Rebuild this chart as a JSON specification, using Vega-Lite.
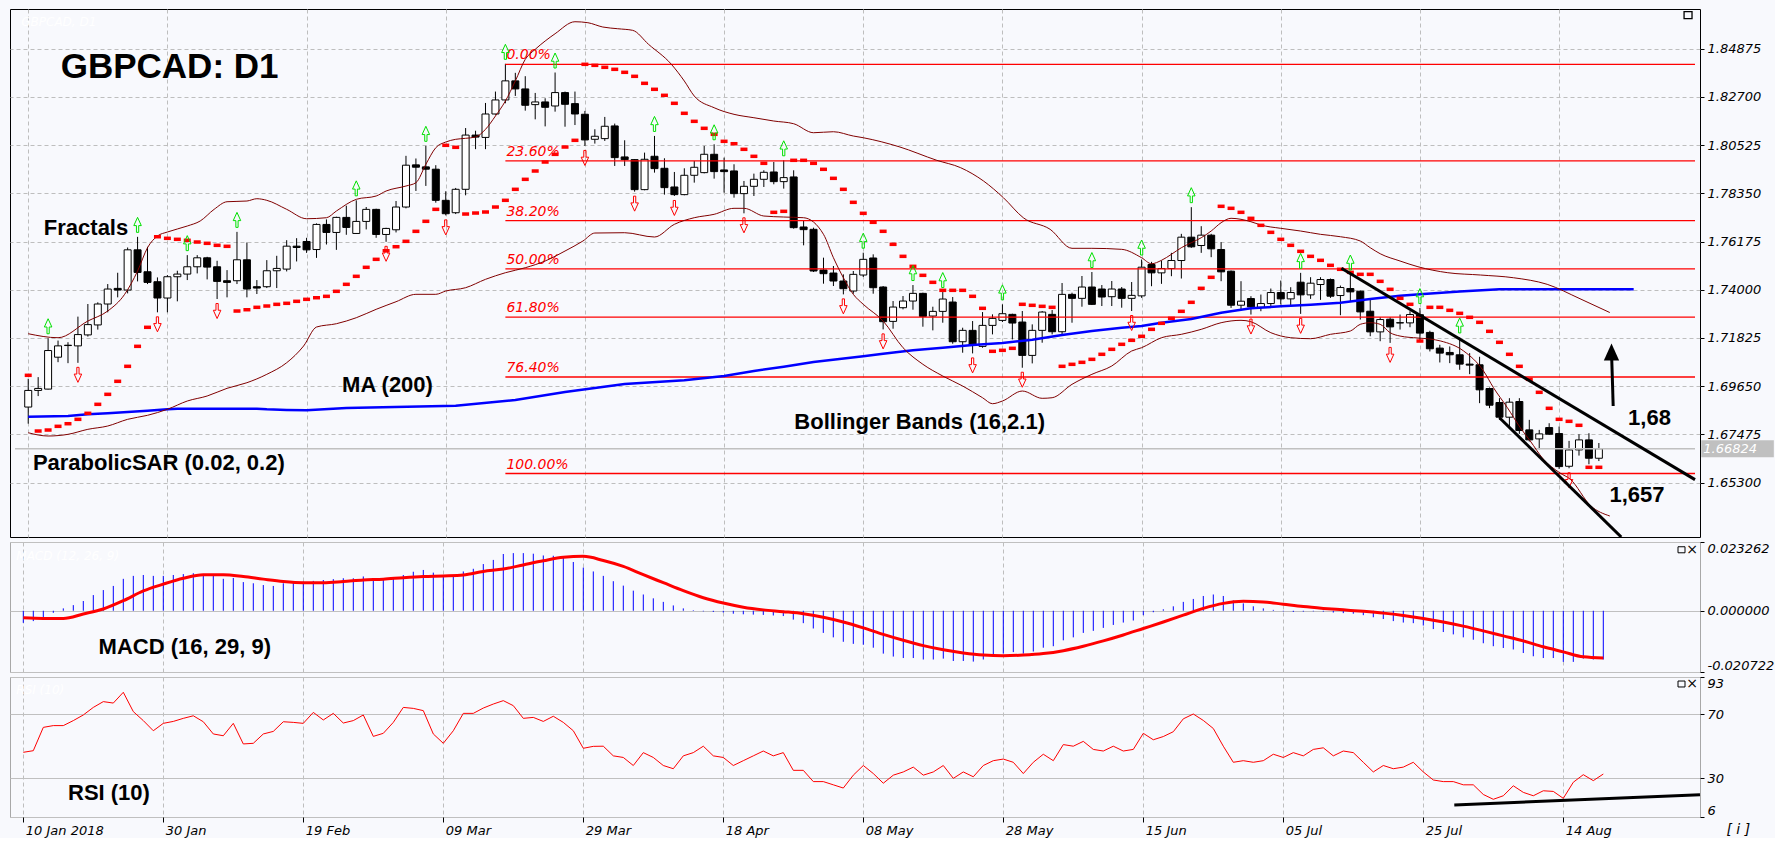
{
"$schema":"https://vega.github.io/schema/vega-lite/v6.json",
"background":"#F8F9FD",
"padding":{"left":9,"top":8,"right":0,"bottom":0},
"spacing":3,
"config":{"font":"DejaVu Sans","view":{"stroke":null}},
"datasets":{
"k":[
{"i":0,"o":1.68705,"h":1.6998,"l":1.67955,"c":1.69455,"s":1.70137},
{"i":1,"o":1.69455,"h":1.70055,"l":1.692,"c":1.69545,"s":1.67623},
{"i":2,"o":1.69515,"h":1.7181,"l":1.695,"c":1.71255,"s":1.67668},
{"i":3,"o":1.70955,"h":1.71705,"l":1.7073,"c":1.71465,"s":1.67835},
{"i":4,"o":1.71495,"h":1.7163,"l":1.70685,"c":1.7148,"s":1.67953},
{"i":5,"o":1.71465,"h":1.72785,"l":1.707,"c":1.71975,"s":1.68151},
{"i":6,"o":1.7196,"h":1.73355,"l":1.71885,"c":1.72425,"s":1.68422},
{"i":7,"o":1.7241,"h":1.7343,"l":1.722,"c":1.73355,"s":1.68828},
{"i":8,"o":1.73355,"h":1.74255,"l":1.7298,"c":1.7403,"s":1.69279},
{"i":9,"o":1.7406,"h":1.74765,"l":1.73655,"c":1.73985,"s":1.69866},
{"i":10,"o":1.73985,"h":1.75905,"l":1.73835,"c":1.758,"s":1.70543},
{"i":11,"o":1.758,"h":1.76385,"l":1.74375,"c":1.7478,"s":1.71445},
{"i":12,"o":1.7481,"h":1.75935,"l":1.74255,"c":1.7433,"s":1.72303},
{"i":13,"o":1.7436,"h":1.74555,"l":1.7298,"c":1.73625,"s":1.76391},
{"i":14,"o":1.73625,"h":1.7466,"l":1.7298,"c":1.74585,"s":1.76319},
{"i":15,"o":1.74585,"h":1.74855,"l":1.73475,"c":1.74705,"s":1.76274},
{"i":16,"o":1.74705,"h":1.7556,"l":1.74435,"c":1.75035,"s":1.76229},
{"i":17,"o":1.75035,"h":1.7556,"l":1.74735,"c":1.7544,"s":1.76152},
{"i":18,"o":1.7544,"h":1.75485,"l":1.74465,"c":1.7502,"s":1.76093},
{"i":19,"o":1.75035,"h":1.75305,"l":1.7358,"c":1.74375,"s":1.76003},
{"i":20,"o":1.74405,"h":1.74885,"l":1.73655,"c":1.7433,"s":1.75958},
{"i":21,"o":1.74405,"h":1.7661,"l":1.74255,"c":1.7535,"s":1.73038},
{"i":22,"o":1.7535,"h":1.7613,"l":1.73655,"c":1.7403,"s":1.73097},
{"i":23,"o":1.74135,"h":1.74435,"l":1.73805,"c":1.74075,"s":1.73205},
{"i":24,"o":1.74135,"h":1.75335,"l":1.74075,"c":1.74855,"s":1.73264},
{"i":25,"o":1.74855,"h":1.7553,"l":1.74075,"c":1.7496,"s":1.7334},
{"i":26,"o":1.7493,"h":1.76235,"l":1.74825,"c":1.75965,"s":1.73386},
{"i":27,"o":1.75965,"h":1.76325,"l":1.75275,"c":1.75905,"s":1.73476},
{"i":28,"o":1.76176,"h":1.76342,"l":1.75662,"c":1.75798,"s":1.73566},
{"i":29,"o":1.75813,"h":1.76991,"l":1.75436,"c":1.76946,"s":1.73638},
{"i":30,"o":1.76946,"h":1.77173,"l":1.7604,"c":1.76584,"s":1.73701},
{"i":31,"o":1.76584,"h":1.77293,"l":1.75798,"c":1.77263,"s":1.73927},
{"i":32,"o":1.77263,"h":1.77792,"l":1.76478,"c":1.7681,"s":1.74243},
{"i":33,"o":1.76538,"h":1.78033,"l":1.7652,"c":1.77082,"s":1.74604},
{"i":34,"o":1.77082,"h":1.77731,"l":1.7672,"c":1.77625,"s":1.7501},
{"i":35,"o":1.77625,"h":1.77655,"l":1.76342,"c":1.76493,"s":1.75371},
{"i":36,"o":1.76493,"h":1.76795,"l":1.76161,"c":1.76765,"s":1.75759},
{"i":37,"o":1.76704,"h":1.78003,"l":1.76584,"c":1.77731,"s":1.7594},
{"i":38,"o":1.77731,"h":1.80041,"l":1.77671,"c":1.79619,"s":1.76183},
{"i":39,"o":1.79634,"h":1.79921,"l":1.78456,"c":1.79528,"s":1.76634},
{"i":40,"o":1.79543,"h":1.80494,"l":1.78683,"c":1.79438,"s":1.77086},
{"i":41,"o":1.79438,"h":1.79619,"l":1.77927,"c":1.78033,"s":1.77627},
{"i":42,"o":1.78033,"h":1.78441,"l":1.77354,"c":1.77429,"s":1.80516},
{"i":43,"o":1.77474,"h":1.78592,"l":1.77414,"c":1.78531,"s":1.80425},
{"i":44,"o":1.78531,"h":1.81295,"l":1.7826,"c":1.80978,"s":1.77415},
{"i":45,"o":1.80978,"h":1.81174,"l":1.80343,"c":1.80887,"s":1.7746},
{"i":46,"o":1.80872,"h":1.82427,"l":1.80343,"c":1.81929,"s":1.77506},
{"i":47,"o":1.81929,"h":1.82941,"l":1.819,"c":1.82563,"s":1.77731},
{"i":48,"o":1.82563,"h":1.84194,"l":1.82412,"c":1.83424,"s":1.78034},
{"i":49,"o":1.83424,"h":1.83786,"l":1.82744,"c":1.83061,"s":1.7853},
{"i":50,"o":1.83061,"h":1.83635,"l":1.8208,"c":1.82322,"s":1.78981},
{"i":51,"o":1.82352,"h":1.8288,"l":1.81688,"c":1.82473,"s":1.79356},
{"i":52,"o":1.82473,"h":1.82639,"l":1.8137,"c":1.82231,"s":1.79762},
{"i":53,"o":1.82291,"h":1.83801,"l":1.82035,"c":1.82895,"s":1.80109},
{"i":54,"o":1.82895,"h":1.82941,"l":1.81355,"c":1.82367,"s":1.80439},
{"i":55,"o":1.82397,"h":1.82941,"l":1.81431,"c":1.81929,"s":1.80741},
{"i":56,"o":1.81917,"h":1.82068,"l":1.80487,"c":1.80758,"s":1.84171},
{"i":57,"o":1.80788,"h":1.8124,"l":1.80593,"c":1.80924,"s":1.84125},
{"i":58,"o":1.80818,"h":1.81797,"l":1.80713,"c":1.81375,"s":1.84035},
{"i":59,"o":1.8139,"h":1.81496,"l":1.79584,"c":1.79961,"s":1.83945},
{"i":60,"o":1.79991,"h":1.80743,"l":1.79584,"c":1.7987,"s":1.8381},
{"i":61,"o":1.7987,"h":1.79885,"l":1.78425,"c":1.78516,"s":1.83629},
{"i":62,"o":1.78516,"h":1.80186,"l":1.78486,"c":1.79885,"s":1.83313},
{"i":63,"o":1.80021,"h":1.80939,"l":1.79283,"c":1.79464,"s":1.83043},
{"i":64,"o":1.79479,"h":1.79931,"l":1.7829,"c":1.78606,"s":1.82772},
{"i":65,"o":1.78636,"h":1.79313,"l":1.7823,"c":1.7829,"s":1.82411},
{"i":66,"o":1.7829,"h":1.79479,"l":1.7826,"c":1.79163,"s":1.8196},
{"i":67,"o":1.79163,"h":1.7981,"l":1.78832,"c":1.79524,"s":1.81598},
{"i":68,"o":1.79283,"h":1.80487,"l":1.7925,"c":1.80111,"s":1.81283},
{"i":69,"o":1.80111,"h":1.80563,"l":1.79012,"c":1.79329,"s":1.81012},
{"i":70,"o":1.79404,"h":1.79961,"l":1.7838,"c":1.79329,"s":1.80696},
{"i":71,"o":1.79359,"h":1.7966,"l":1.78154,"c":1.78335,"s":1.80588},
{"i":72,"o":1.78335,"h":1.78907,"l":1.77447,"c":1.78666,"s":1.80335},
{"i":73,"o":1.78666,"h":1.79238,"l":1.7823,"c":1.78982,"s":1.80019},
{"i":74,"o":1.78982,"h":1.79389,"l":1.78636,"c":1.79298,"s":1.79703},
{"i":75,"o":1.79313,"h":1.79765,"l":1.78757,"c":1.78877,"s":1.77492},
{"i":76,"o":1.78877,"h":1.7984,"l":1.78561,"c":1.79058,"s":1.77537},
{"i":77,"o":1.79088,"h":1.79389,"l":1.76755,"c":1.768,"s":1.79839},
{"i":78,"o":1.7683,"h":1.77101,"l":1.76003,"c":1.7671,"s":1.79839},
{"i":79,"o":1.76725,"h":1.768,"l":1.74798,"c":1.74844,"s":1.79703},
{"i":80,"o":1.74889,"h":1.75446,"l":1.74272,"c":1.74723,"s":1.79433},
{"i":81,"o":1.74753,"h":1.7507,"l":1.74166,"c":1.74392,"s":1.79026},
{"i":82,"o":1.74392,"h":1.74693,"l":1.7379,"c":1.74046,"s":1.7853},
{"i":83,"o":1.73941,"h":1.74844,"l":1.7382,"c":1.74693,"s":1.77943},
{"i":84,"o":1.74663,"h":1.75671,"l":1.74573,"c":1.7537,"s":1.77447},
{"i":85,"o":1.75431,"h":1.75596,"l":1.7382,"c":1.74091,"s":1.77041},
{"i":86,"o":1.74121,"h":1.74166,"l":1.7221,"c":1.72556,"s":1.76635},
{"i":87,"o":1.72571,"h":1.73489,"l":1.7224,"c":1.73218,"s":1.76048},
{"i":88,"o":1.73188,"h":1.73715,"l":1.73113,"c":1.73489,"s":1.75506},
{"i":89,"o":1.73489,"h":1.74211,"l":1.73098,"c":1.73835,"s":1.75055},
{"i":90,"o":1.73835,"h":1.73865,"l":1.7233,"c":1.72797,"s":1.74649},
{"i":91,"o":1.72812,"h":1.73233,"l":1.72165,"c":1.73022,"s":1.74333},
{"i":92,"o":1.73022,"h":1.73895,"l":1.72511,"c":1.73579,"s":1.73972},
{"i":93,"o":1.73444,"h":1.7367,"l":1.71563,"c":1.71653,"s":1.73972},
{"i":94,"o":1.71653,"h":1.72285,"l":1.71157,"c":1.72165,"s":1.73972},
{"i":95,"o":1.72165,"h":1.72586,"l":1.71126,"c":1.71487,"s":1.73702},
{"i":96,"o":1.71442,"h":1.72992,"l":1.71382,"c":1.7239,"s":1.7316},
{"i":97,"o":1.7239,"h":1.72887,"l":1.71984,"c":1.72706,"s":1.7122},
{"i":98,"o":1.72616,"h":1.73339,"l":1.72541,"c":1.72917,"s":1.71265},
{"i":99,"o":1.72887,"h":1.72917,"l":1.71758,"c":1.72496,"s":1.71355},
{"i":100,"o":1.72541,"h":1.73038,"l":1.70479,"c":1.71036,"s":1.73341},
{"i":101,"o":1.71036,"h":1.72436,"l":1.70675,"c":1.72165,"s":1.73296},
{"i":102,"o":1.72165,"h":1.73038,"l":1.71608,"c":1.72992,"s":1.7325},
{"i":103,"o":1.72887,"h":1.73083,"l":1.71984,"c":1.72104,"s":1.73205},
{"i":104,"o":1.72104,"h":1.74302,"l":1.71984,"c":1.7379,"s":1.70543},
{"i":105,"o":1.7379,"h":1.73865,"l":1.72511,"c":1.7361,"s":1.70633},
{"i":106,"o":1.7361,"h":1.74618,"l":1.73233,"c":1.74121,"s":1.70723},
{"i":107,"o":1.74121,"h":1.74798,"l":1.73309,"c":1.73339,"s":1.70858},
{"i":108,"o":1.74031,"h":1.74211,"l":1.73264,"c":1.7367,"s":1.71085},
{"i":109,"o":1.73685,"h":1.74392,"l":1.73264,"c":1.74031,"s":1.7131},
{"i":110,"o":1.74031,"h":1.74121,"l":1.73188,"c":1.7361,"s":1.71536},
{"i":111,"o":1.7361,"h":1.74347,"l":1.73038,"c":1.73745,"s":1.71716},
{"i":112,"o":1.73722,"h":1.75362,"l":1.73632,"c":1.75016,"s":1.71897},
{"i":113,"o":1.75137,"h":1.75257,"l":1.74158,"c":1.7476,"s":1.72212},
{"i":114,"o":1.7476,"h":1.75317,"l":1.74264,"c":1.74956,"s":1.72483},
{"i":115,"o":1.74956,"h":1.75663,"l":1.7461,"c":1.75317,"s":1.72709},
{"i":116,"o":1.75317,"h":1.76521,"l":1.74505,"c":1.76371,"s":1.73025},
{"i":117,"o":1.76371,"h":1.77725,"l":1.75889,"c":1.75934,"s":1.73431},
{"i":118,"o":1.75994,"h":1.76867,"l":1.75663,"c":1.76461,"s":1.74063},
{"i":119,"o":1.76461,"h":1.76521,"l":1.75468,"c":1.75844,"s":1.74559},
{"i":120,"o":1.75814,"h":1.76145,"l":1.74384,"c":1.74806,"s":1.77763},
{"i":121,"o":1.74836,"h":1.74866,"l":1.7318,"c":1.733,"s":1.77673},
{"i":122,"o":1.733,"h":1.74384,"l":1.7306,"c":1.73481,"s":1.77492},
{"i":123,"o":1.73601,"h":1.73707,"l":1.72879,"c":1.73225,"s":1.77221},
{"i":124,"o":1.7321,"h":1.73782,"l":1.7303,"c":1.73376,"s":1.76905},
{"i":125,"o":1.73376,"h":1.74053,"l":1.7318,"c":1.73872,"s":1.76589},
{"i":126,"o":1.73872,"h":1.74414,"l":1.73331,"c":1.73586,"s":1.76274},
{"i":127,"o":1.73586,"h":1.74113,"l":1.73255,"c":1.73872,"s":1.76003},
{"i":128,"o":1.74339,"h":1.7476,"l":1.72909,"c":1.73767,"s":1.75732},
{"i":129,"o":1.73767,"h":1.74565,"l":1.73586,"c":1.74294,"s":1.75506},
{"i":130,"o":1.74234,"h":1.74565,"l":1.73541,"c":1.74459,"s":1.75326},
{"i":131,"o":1.74459,"h":1.74505,"l":1.73632,"c":1.73707,"s":1.751},
{"i":132,"o":1.73737,"h":1.74188,"l":1.72849,"c":1.74098,"s":1.7492},
{"i":133,"o":1.74053,"h":1.74685,"l":1.73481,"c":1.73902,"s":1.74784},
{"i":134,"o":1.73932,"h":1.73963,"l":1.72653,"c":1.72999,"s":1.74694},
{"i":135,"o":1.73029,"h":1.73541,"l":1.71901,"c":1.72097,"s":1.74694},
{"i":136,"o":1.72097,"h":1.72759,"l":1.71675,"c":1.72653,"s":1.74378},
{"i":137,"o":1.72668,"h":1.72759,"l":1.716,"c":1.72322,"s":1.74017},
{"i":138,"o":1.7251,"h":1.72879,"l":1.72202,"c":1.725,"s":1.73611},
{"i":139,"o":1.72503,"h":1.7303,"l":1.72307,"c":1.72879,"s":1.73341},
{"i":140,"o":1.72871,"h":1.73172,"l":1.71666,"c":1.72042,"s":1.71684},
{"i":141,"o":1.72072,"h":1.72148,"l":1.71214,"c":1.71335,"s":1.73205},
{"i":142,"o":1.71365,"h":1.71515,"l":1.70717,"c":1.71139,"s":1.73205},
{"i":143,"o":1.71169,"h":1.7144,"l":1.70687,"c":1.71063,"s":1.7307},
{"i":144,"o":1.71063,"h":1.71847,"l":1.70386,"c":1.70642,"s":1.72934},
{"i":145,"o":1.70642,"h":1.71139,"l":1.7019,"c":1.70597,"s":1.72754},
{"i":146,"o":1.70612,"h":1.70973,"l":1.68881,"c":1.69482,"s":1.72528},
{"i":147,"o":1.69542,"h":1.69587,"l":1.68654,"c":1.68789,"s":1.72122},
{"i":148,"o":1.6891,"h":1.69106,"l":1.68127,"c":1.68247,"s":1.71626},
{"i":149,"o":1.68247,"h":1.69106,"l":1.6775,"c":1.68925,"s":1.71085},
{"i":150,"o":1.68955,"h":1.69106,"l":1.67494,"c":1.67645,"s":1.70543},
{"i":151,"o":1.67675,"h":1.68127,"l":1.67148,"c":1.67223,"s":1.69956},
{"i":152,"o":1.67268,"h":1.67675,"l":1.66802,"c":1.67494,"s":1.6937},
{"i":153,"o":1.6778,"h":1.67976,"l":1.67449,"c":1.67479,"s":1.68648},
{"i":154,"o":1.67509,"h":1.67826,"l":1.65913,"c":1.66018,"s":1.68151},
{"i":155,"o":1.66033,"h":1.67178,"l":1.65943,"c":1.66771,"s":1.68061},
{"i":156,"o":1.66771,"h":1.67479,"l":1.66515,"c":1.67223,"s":1.67881},
{"i":157,"o":1.67223,"h":1.67524,"l":1.66124,"c":1.66395,"s":1.65986},
{"i":158,"o":1.66395,"h":1.67083,"l":1.66268,"c":1.66824,"s":1.65986}
],
"ind":[
{"i":0,"m":-0.0041,"r":46.2},{"i":1,"m":-0.0035,"r":47.2},{"i":2,"m":-0.0022,"r":61.7},{"i":3,"m":-0.0007,"r":62.8},{"i":4,"m":0.0008,"r":62.8},{"i":5,"m":0.0019,"r":65.9},{"i":6,"m":0.0033,"r":69.4},{"i":7,"m":0.0053,"r":74.1},{"i":8,"m":0.007,"r":77.7},{"i":9,"m":0.0084,"r":76.8},
{"i":10,"m":0.0108,"r":83.5},{"i":11,"m":0.0118,"r":71.5},{"i":12,"m":0.0121,"r":65.9},{"i":13,"m":0.0118,"r":59.6},{"i":14,"m":0.0118,"r":64.2},{"i":15,"m":0.0121,"r":65.4},{"i":16,"m":0.0124,"r":67.3},{"i":17,"m":0.0127,"r":68.9},{"i":18,"m":0.0121,"r":65.2},{"i":19,"m":0.0119,"r":57.6},
{"i":20,"m":0.0108,"r":56.5},{"i":21,"m":0.0111,"r":64.2},{"i":22,"m":0.0097,"r":51.4},{"i":23,"m":0.0093,"r":51.8},{"i":24,"m":0.0087,"r":57.6},{"i":25,"m":0.0084,"r":59.2},{"i":26,"m":0.0093,"r":65.2},{"i":27,"m":0.0099,"r":64.8},{"i":28,"m":0.0099,"r":64.2},{"i":29,"m":0.0101,"r":71.0},
{"i":30,"m":0.0104,"r":66.3},{"i":31,"m":0.0107,"r":70.4},{"i":32,"m":0.011,"r":64.4},{"i":33,"m":0.011,"r":65.9},{"i":34,"m":0.0116,"r":69.4},{"i":35,"m":0.0104,"r":56.1},{"i":36,"m":0.0107,"r":58.0},{"i":37,"m":0.011,"r":64.8},{"i":38,"m":0.0121,"r":74.1},{"i":39,"m":0.0132,"r":73.5},
{"i":40,"m":0.0138,"r":72.1},{"i":41,"m":0.0129,"r":57.6},{"i":42,"m":0.0121,"r":51.8},{"i":43,"m":0.0118,"r":59.6},{"i":44,"m":0.0133,"r":70.4},{"i":45,"m":0.0142,"r":70.4},{"i":46,"m":0.0158,"r":73.7},{"i":47,"m":0.0172,"r":76.2},{"i":48,"m":0.0192,"r":78.3},{"i":49,"m":0.0195,"r":75.2},
{"i":50,"m":0.0195,"r":67.3},{"i":51,"m":0.0193,"r":67.9},{"i":52,"m":0.0187,"r":65.4},{"i":53,"m":0.0186,"r":68.6},{"i":54,"m":0.0184,"r":64.8},{"i":55,"m":0.0165,"r":59.6},{"i":56,"m":0.0146,"r":48.7},{"i":57,"m":0.0133,"r":49.9},{"i":58,"m":0.0118,"r":50},{"i":59,"m":0.01,"r":44},
{"i":60,"m":0.0085,"r":43},{"i":61,"m":0.0068,"r":38},{"i":62,"m":0.0055,"r":46},{"i":63,"m":0.0042,"r":43},{"i":64,"m":0.003,"r":38},{"i":65,"m":0.0018,"r":36},{"i":66,"m":0.0008,"r":44},{"i":67,"m":0.0002,"r":46},{"i":68,"m":-0.0002,"r":50},{"i":69,"m":-0.0004,"r":44},
{"i":70,"m":-0.0006,"r":43},{"i":71,"m":-0.001,"r":38},{"i":72,"m":-0.0012,"r":41},{"i":73,"m":-0.0013,"r":44},{"i":74,"m":-0.0014,"r":47},{"i":75,"m":-0.0016,"r":44},{"i":76,"m":-0.0018,"r":46},{"i":77,"m":-0.003,"r":35},{"i":78,"m":-0.0042,"r":35},{"i":79,"m":-0.006,"r":28},
{"i":80,"m":-0.0075,"r":28},{"i":81,"m":-0.009,"r":26},{"i":82,"m":-0.0105,"r":24},{"i":83,"m":-0.0112,"r":32},{"i":84,"m":-0.0115,"r":38},{"i":85,"m":-0.0125,"r":33},{"i":86,"m":-0.0145,"r":27},{"i":87,"m":-0.0155,"r":32},{"i":88,"m":-0.016,"r":34},{"i":89,"m":-0.016,"r":37},
{"i":90,"m":-0.0165,"r":32},{"i":91,"m":-0.0165,"r":34},{"i":92,"m":-0.0162,"r":38},{"i":93,"m":-0.017,"r":30},{"i":94,"m":-0.017,"r":34},{"i":95,"m":-0.0172,"r":31},{"i":96,"m":-0.0165,"r":38},{"i":97,"m":-0.0155,"r":41},{"i":98,"m":-0.0145,"r":42},{"i":99,"m":-0.014,"r":40},
{"i":100,"m":-0.0145,"r":33},{"i":101,"m":-0.0138,"r":40},{"i":102,"m":-0.0125,"r":45},{"i":103,"m":-0.012,"r":41},{"i":104,"m":-0.01,"r":51},{"i":105,"m":-0.009,"r":50},{"i":106,"m":-0.0075,"r":53},{"i":107,"m":-0.0068,"r":48},{"i":108,"m":-0.0058,"r":47},{"i":109,"m":-0.0048,"r":50},
{"i":110,"m":-0.004,"r":47},{"i":111,"m":-0.0033,"r":48},{"i":112,"m":-0.0015,"r":58},{"i":113,"m":-0.0005,"r":54},{"i":114,"m":0.0005,"r":56},{"i":115,"m":0.0015,"r":59},{"i":116,"m":0.003,"r":67},{"i":117,"m":0.004,"r":70},{"i":118,"m":0.005,"r":66},{"i":119,"m":0.0055,"r":61},
{"i":120,"m":0.005,"r":50},{"i":121,"m":0.0035,"r":40},{"i":122,"m":0.0025,"r":41},{"i":123,"m":0.0015,"r":40},{"i":124,"m":0.0008,"r":41},{"i":125,"m":0.0003,"r":45},{"i":126,"m":-0.0002,"r":43},{"i":127,"m":-0.0004,"r":46},{"i":128,"m":-0.0003,"r":44},{"i":129,"m":-0.0002,"r":48},
{"i":130,"m":-0.0003,"r":49},{"i":131,"m":-0.0006,"r":44},{"i":132,"m":-0.0008,"r":47},{"i":133,"m":-0.001,"r":46},{"i":134,"m":-0.0015,"r":40},{"i":135,"m":-0.0022,"r":34},{"i":136,"m":-0.0028,"r":38},{"i":137,"m":-0.0035,"r":36},{"i":138,"m":-0.004,"r":37},{"i":139,"m":-0.0042,"r":40},
{"i":140,"m":-0.005,"r":34},{"i":141,"m":-0.0062,"r":29},{"i":142,"m":-0.0072,"r":28},{"i":143,"m":-0.008,"r":28},{"i":144,"m":-0.009,"r":26},{"i":145,"m":-0.0098,"r":26},{"i":146,"m":-0.011,"r":20},{"i":147,"m":-0.012,"r":17},{"i":148,"m":-0.0126,"r":19.2},{"i":149,"m":-0.0131,"r":25.4},
{"i":150,"m":-0.0143,"r":21.3},{"i":151,"m":-0.0154,"r":19.2},{"i":152,"m":-0.016,"r":22.3},{"i":153,"m":-0.016,"r":21.9},{"i":154,"m":-0.0173,"r":17.6},{"i":155,"m":-0.0173,"r":27.6},{"i":156,"m":-0.0162,"r":32.3},{"i":157,"m":-0.0165,"r":28.6},{"i":158,"m":-0.0165,"r":32.7}
],
"sig":[
{"i":0,"s":-0.0024},{"i":2,"s":-0.0026},{"i":4,"s":-0.0026},{"i":6,"s":-0.0011},{"i":8,"s":0.0006},{"i":10,"s":0.0034},{"i":12,"s":0.0067},{"i":14,"s":0.009},{"i":16,"s":0.011},{"i":18,"s":0.0122},{"i":20,"s":0.0122},{"i":22,"s":0.0116},{"i":24,"s":0.0107},{"i":26,"s":0.0099},{"i":28,"s":0.0095},{"i":30,"s":0.0095},{"i":32,"s":0.0099},{"i":34,"s":0.0104},{"i":36,"s":0.0107},{"i":38,"s":0.0112},{"i":40,"s":0.0116},{"i":42,"s":0.0118},{"i":44,"s":0.0121},{"i":46,"s":0.0133},{"i":48,"s":0.0141},{"i":50,"s":0.0155},{"i":52,"s":0.0169},{"i":54,"s":0.0181},{"i":56,"s":0.0184},{"i":58,"s":0.017},{"i":60,"s":0.015},{"i":62,"s":0.0122},{"i":64,"s":0.0095},{"i":66,"s":0.0068},{"i":68,"s":0.0044},{"i":70,"s":0.0026},{"i":72,"s":0.0012},{"i":74,"s":0.0003},{"i":76,"s":-0.0003},{"i":78,"s":-0.001},{"i":80,"s":-0.0022},{"i":82,"s":-0.0038},{"i":84,"s":-0.0058},{"i":86,"s":-0.008},{"i":88,"s":-0.01},{"i":90,"s":-0.0118},{"i":92,"s":-0.0132},{"i":94,"s":-0.0143},{"i":96,"s":-0.015},{"i":98,"s":-0.0152},{"i":100,"s":-0.015},{"i":102,"s":-0.0145},{"i":104,"s":-0.0135},{"i":106,"s":-0.012},{"i":108,"s":-0.0102},{"i":110,"s":-0.0082},{"i":112,"s":-0.006},{"i":114,"s":-0.0038},{"i":116,"s":-0.0015},{"i":118,"s":0.0008},{"i":120,"s":0.0025},{"i":122,"s":0.0032},{"i":124,"s":0.003},{"i":126,"s":0.0022},{"i":128,"s":0.0014},{"i":130,"s":0.0008},{"i":132,"s":0.0003},{"i":134,"s":-0.0002},{"i":136,"s":-0.0008},{"i":138,"s":-0.0016},{"i":140,"s":-0.0026},{"i":142,"s":-0.0038},{"i":144,"s":-0.0052},{"i":146,"s":-0.0068},{"i":148,"s":-0.0085},{"i":150,"s":-0.0102},{"i":152,"s":-0.0122},{"i":154,"s":-0.0139},{"i":156,"s":-0.0156},{"i":158,"s":-0.016}
],
"bu":[
{"i":0,"p":1.72014},{"i":3,"p":1.71833},{"i":6,"p":1.72587},{"i":8,"p":1.73038},{"i":9.7,"p":1.73792},{"i":11,"p":1.74843},{"i":12,"p":1.75895},{"i":13,"p":1.76423},{"i":14,"p":1.76603},{"i":16,"p":1.76874},{"i":17.3,"p":1.771},{"i":18.7,"p":1.77627},{"i":20,"p":1.7797},{"i":22,"p":1.78002},{"i":23,"p":1.78106},{"i":24,"p":1.78034},{"i":26,"p":1.77627},{"i":28,"p":1.77203},{"i":30,"p":1.77248},{"i":31,"p":1.77551},{"i":33,"p":1.78079},{"i":35,"p":1.78228},{"i":36,"p":1.78453},{"i":38,"p":1.78679},{"i":39,"p":1.78828},{"i":40,"p":1.79658},{"i":41,"p":1.80408},{"i":42,"p":1.80664},{"i":43,"p":1.80786},{"i":44,"p":1.80832},{"i":45,"p":1.8089},{"i":46,"p":1.81238},{"i":47,"p":1.81838},{"i":48,"p":1.82514},{"i":49,"p":1.83417},{"i":50,"p":1.84396},{"i":51,"p":1.84847},{"i":52,"p":1.85222},{"i":53,"p":1.85551},{"i":55,"p":1.86093},{"i":56.3,"p":1.86048},{"i":57.8,"p":1.85854},{"i":59.3,"p":1.85777},{"i":60.8,"p":1.85705},{"i":62.4,"p":1.85073},{"i":64.7,"p":1.84171},{"i":66,"p":1.83417},{"i":67,"p":1.8274},{"i":69,"p":1.82212},{"i":71,"p":1.81914},{"i":73,"p":1.81761},{"i":75,"p":1.81612},{"i":77,"p":1.8149},{"i":79,"p":1.81084},{"i":81,"p":1.81129},{"i":83,"p":1.80935},{"i":84,"p":1.80858},{"i":87.6,"p":1.80452},{"i":91.4,"p":1.79839},{"i":93.8,"p":1.79505},{"i":96.1,"p":1.78905},{"i":98.1,"p":1.78151},{"i":100.1,"p":1.77248},{"i":102.8,"p":1.76725},{"i":105,"p":1.75868},{"i":107,"p":1.75868},{"i":110,"p":1.75822},{"i":112,"p":1.75443},{"i":113,"p":1.75172},{"i":114,"p":1.75326},{"i":115,"p":1.75597},{"i":116,"p":1.75895},{"i":117,"p":1.7612},{"i":118,"p":1.76346},{"i":119,"p":1.76648},{"i":120,"p":1.77023},{"i":121,"p":1.77222},{"i":122,"p":1.77176},{"i":123,"p":1.77068},{"i":124,"p":1.76919},{"i":126,"p":1.7677},{"i":128,"p":1.76648},{"i":130,"p":1.76499},{"i":132,"p":1.76391},{"i":134,"p":1.76197},{"i":135,"p":1.75895},{"i":136,"p":1.75624},{"i":138,"p":1.75295},{"i":139.8,"p":1.75037},{"i":142.8,"p":1.74767},{"i":146.1,"p":1.74663},{"i":149.4,"p":1.74541},{"i":152.8,"p":1.74243},{"i":156.1,"p":1.73593},{"i":159.1,"p":1.7297}
],
"bl":[
{"i":0,"p":1.67546},{"i":2,"p":1.67398},{"i":4,"p":1.67474},{"i":6,"p":1.677},{"i":8,"p":1.67849},{"i":10,"p":1.68151},{"i":12,"p":1.68332},{"i":14,"p":1.68603},{"i":16,"p":1.68977},{"i":18,"p":1.69203},{"i":20,"p":1.6955},{"i":22,"p":1.69803},{"i":24,"p":1.70182},{"i":26,"p":1.70705},{"i":27.7,"p":1.71459},{"i":29,"p":1.72316},{"i":31,"p":1.72465},{"i":33,"p":1.72736},{"i":35,"p":1.73115},{"i":37,"p":1.73458},{"i":39,"p":1.73792},{"i":41,"p":1.73792},{"i":42,"p":1.73941},{"i":44,"p":1.7409},{"i":46,"p":1.74468},{"i":48,"p":1.74766},{"i":50,"p":1.74992},{"i":52,"p":1.75295},{"i":54,"p":1.75746},{"i":55.8,"p":1.76197},{"i":57,"p":1.76558},{"i":60,"p":1.76572},{"i":63,"p":1.76378},{"i":65,"p":1.76951},{"i":67,"p":1.77249},{"i":69,"p":1.77402},{"i":71,"p":1.77673},{"i":72,"p":1.77673},{"i":74,"p":1.77325},{"i":76,"p":1.7728},{"i":78,"p":1.77249},{"i":80,"p":1.765},{"i":81,"p":1.75444},{"i":82,"p":1.74541},{"i":83,"p":1.73792},{"i":84,"p":1.73341},{"i":86,"p":1.72587},{"i":88,"p":1.71383},{"i":90,"p":1.70634},{"i":92,"p":1.70105},{"i":94,"p":1.69654},{"i":96,"p":1.69126},{"i":97,"p":1.68856},{"i":98,"p":1.68977},{"i":100,"p":1.69428},{"i":102,"p":1.69099},{"i":103,"p":1.69126},{"i":105,"p":1.69731},{"i":107,"p":1.70182},{"i":109,"p":1.70557},{"i":111,"p":1.71234},{"i":112,"p":1.71383},{"i":114,"p":1.71834},{"i":116,"p":1.71987},{"i":118,"p":1.72212},{"i":120,"p":1.72511},{"i":122,"p":1.72619},{"i":123,"p":1.72556},{"i":125,"p":1.7206},{"i":127,"p":1.71834},{"i":129,"p":1.71789},{"i":131,"p":1.71987},{"i":133,"p":1.72136},{"i":134,"p":1.72438},{"i":135,"p":1.72511},{"i":136,"p":1.72438},{"i":137,"p":1.7206},{"i":138,"p":1.71909},{"i":139.8,"p":1.7182},{"i":141,"p":1.71775},{"i":142.1,"p":1.71684},{"i":144.4,"p":1.71233},{"i":146.4,"p":1.70331},{"i":147.4,"p":1.69577},{"i":148.8,"p":1.68675},{"i":150.1,"p":1.67772},{"i":151.1,"p":1.67172},{"i":152.4,"p":1.6636},{"i":154.1,"p":1.65728},{"i":155.1,"p":1.65457},{"i":157.2,"p":1.64239},{"i":159.1,"p":1.63788}
],
"ma":[
{"i":0,"p":1.68269},{"i":4,"p":1.683},{"i":6,"p":1.68377},{"i":8,"p":1.68422},{"i":10,"p":1.6848},{"i":12,"p":1.68539},{"i":14,"p":1.68602},{"i":15,"p":1.6863},{"i":23,"p":1.6863},{"i":24,"p":1.68602},{"i":26,"p":1.68571},{"i":28,"p":1.68557},{"i":32,"p":1.68661},{"i":43,"p":1.68769},{"i":49,"p":1.69022},{"i":54,"p":1.69383},{"i":60,"p":1.69744},{"i":66,"p":1.69911},{"i":70,"p":1.70105},{"i":73,"p":1.70331},{"i":76,"p":1.70525},{"i":79,"p":1.70737},{"i":84,"p":1.70994},{"i":86,"p":1.71112},{"i":89,"p":1.71265},{"i":92,"p":1.71382},{"i":95,"p":1.71504},{"i":98,"p":1.71595},{"i":101,"p":1.71744},{"i":104,"p":1.71955},{"i":107,"p":1.72136},{"i":110,"p":1.72285},{"i":112,"p":1.72361},{"i":114,"p":1.7251},{"i":117,"p":1.72677},{"i":120,"p":1.72961},{"i":123,"p":1.7316},{"i":126,"p":1.7325},{"i":129,"p":1.73323},{"i":132,"p":1.73413},{"i":135,"p":1.7358},{"i":138,"p":1.73729},{"i":140,"p":1.73792},{"i":144,"p":1.73919},{"i":148,"p":1.74018},{"i":161.5,"p":1.74018}
],
"fup":[
{"i":2,"p":1.7181},{"i":11,"p":1.76385},{"i":16,"p":1.7556},{"i":21,"p":1.7661},{"i":33,"p":1.78033},{"i":40,"p":1.80494},{"i":48,"p":1.84194},{"i":53,"p":1.83801},{"i":63,"p":1.80939},{"i":69,"p":1.80563},{"i":76,"p":1.7984},{"i":84,"p":1.75671},{"i":89,"p":1.74211},{"i":92,"p":1.73895},{"i":98,"p":1.73339},{"i":107,"p":1.74798},{"i":112,"p":1.75362},{"i":117,"p":1.77725},{"i":128,"p":1.7476},{"i":133,"p":1.74685},{"i":140,"p":1.73172},{"i":144,"p":1.71847}
],
"fdn":[
{"i":5,"p":1.707},{"i":13,"p":1.7298},{"i":19,"p":1.7358},{"i":36,"p":1.76161},{"i":42,"p":1.77354},{"i":56,"p":1.80487},{"i":61,"p":1.78425},{"i":65,"p":1.7823},{"i":72,"p":1.77447},{"i":82,"p":1.7379},{"i":86,"p":1.7221},{"i":95,"p":1.71126},{"i":100,"p":1.70479},{"i":111,"p":1.73038},{"i":123,"p":1.72879},{"i":128,"p":1.72909},{"i":137,"p":1.716},{"i":155,"p":1.65943}
],
"fib":[
{"lab":"0.00%","p":1.84171,"i0":48,"i1":167.67},{"lab":"23.60%","p":1.79811,"i0":48,"i1":167.67},{"lab":"38.20%","p":1.77114,"i0":48,"i1":167.67},{"lab":"50.00%","p":1.74938,"i0":48,"i1":167.67},{"lab":"61.80%","p":1.72759,"i0":48,"i1":167.67},{"lab":"76.40%","p":1.70062,"i0":48,"i1":167.67},{"lab":"100.00%","p":1.65706,"i0":48,"i1":167.67}
],
"tl":[
{"g":"a","i":132.1,"p":1.74965},{"g":"a","i":167.67,"p":1.65429},{"g":"b","i":148.0,"p":1.68224},{"g":"b","i":160.25,"p":1.62841}
],
"ann":[
{"t":"Fractals","i":1.57,"p":1.76454},{"t":"MA (200)","i":31.57,"p":1.69383},{"t":"Bollinger Bands (16,2.1)","i":77.07,"p":1.67714},{"t":"ParabolicSAR (0.02, 0.2)","i":0.47,"p":1.65863},{"t":"1,68","i":160.94,"p":1.67894},{"t":"1,657","i":159.07,"p":1.64424}
],
"cp":[{"i0":-1.33,"i1":167.67,"p":1.66824,"b0":168.3,"b1":175.6,"p0":1.66444,"p1":1.67204,"t":"1.66824"}],
"arr":[{"i":159.44,"p":1.68751,"i2":159.29,"p2":1.7095,"hi":159.27,"hp":1.71188}]
},
"vconcat":[
{
"width":1690,"height":528,
"view":{"fill":"#F8F9FD","stroke":"#000000","strokeWidth":1},
"layer":[
{"data":{"name":"k"},"mark":{"type":"rule","color":"#000000","strokeWidth":1},
"encoding":{
"x":{"field":"i","type":"quantitative","scale":{"domain":[-1.33,167.67],"nice":false,"zero":false},"axis":{"values":[0,14,28,42,56,70,84,98,112,126,140,154],"labels":false,"ticks":false,"domain":false,"grid":true,"gridDash":[4,3],"gridColor":"#BEBEBE","title":null}},
"y":{"field":"l","type":"quantitative","scale":{"domain":[1.62841,1.86667],"nice":false,"zero":false},"axis":{"orient":"right","values":[1.653,1.67475,1.6965,1.71825,1.74,1.76175,1.7835,1.80525,1.827,1.84875],"format":".5f","title":null,"grid":true,"gridDash":[4,3],"gridColor":"#BEBEBE","domain":false,"tickSize":4,"tickColor":"#000000","labelFont":"DejaVu Sans","labelFontSize":13,"labelFontStyle":"italic","labelColor":"#000000","labelPadding":3}},
"y2":{"field":"h"}}},
{"data":{"name":"k"},"mark":{"type":"bar","width":7,"stroke":"#000000","strokeWidth":1},
"encoding":{
"x":{"field":"i","type":"quantitative","scale":{"domain":[-1.33,167.67],"nice":false,"zero":false}},
"y":{"field":"o","type":"quantitative","scale":{"domain":[1.62841,1.86667],"nice":false,"zero":false}},
"y2":{"field":"c"},
"fill":{"condition":{"test":"datum.c >= datum.o","value":"#FFFFFF"},"value":"#000000"}}},
{"data":{"name":"fib"},"mark":{"type":"rule","color":"#FF0000","strokeWidth":1.3},
"encoding":{
"x":{"field":"i0","type":"quantitative","scale":{"domain":[-1.33,167.67],"nice":false,"zero":false}},
"x2":{"field":"i1"},
"y":{"field":"p","type":"quantitative","scale":{"domain":[1.62841,1.86667],"nice":false,"zero":false}}}},
{"data":{"name":"fib"},"mark":{"type":"text","color":"#FF0000","font":"DejaVu Sans","fontSize":14,"fontStyle":"italic","align":"left","baseline":"alphabetic","dx":1,"dy":-5},
"encoding":{
"x":{"field":"i0","type":"quantitative","scale":{"domain":[-1.33,167.67],"nice":false,"zero":false}},
"y":{"field":"p","type":"quantitative","scale":{"domain":[1.62841,1.86667],"nice":false,"zero":false}},
"text":{"field":"lab"}}},
{"data":{"name":"cp"},"mark":{"type":"rule","color":"#C0C0C0","strokeWidth":1.5},
"encoding":{
"x":{"field":"i0","type":"quantitative","scale":{"domain":[-1.33,167.67],"nice":false,"zero":false}},
"x2":{"field":"i1"},
"y":{"field":"p","type":"quantitative","scale":{"domain":[1.62841,1.86667],"nice":false,"zero":false}}}},
{"data":{"name":"ma"},"mark":{"type":"line","color":"#0000FF","strokeWidth":2.5,"clip":true},
"encoding":{
"x":{"field":"i","type":"quantitative","scale":{"domain":[-1.33,167.67],"nice":false,"zero":false}},
"y":{"field":"p","type":"quantitative","scale":{"domain":[1.62841,1.86667],"nice":false,"zero":false}}}},
{"data":{"name":"bu"},"mark":{"type":"line","color":"#800000","strokeWidth":1,"interpolate":"monotone","clip":true},
"encoding":{
"x":{"field":"i","type":"quantitative","scale":{"domain":[-1.33,167.67],"nice":false,"zero":false}},
"y":{"field":"p","type":"quantitative","scale":{"domain":[1.62841,1.86667],"nice":false,"zero":false}}}},
{"data":{"name":"bl"},"mark":{"type":"line","color":"#800000","strokeWidth":1,"interpolate":"monotone","clip":true},
"encoding":{
"x":{"field":"i","type":"quantitative","scale":{"domain":[-1.33,167.67],"nice":false,"zero":false}},
"y":{"field":"p","type":"quantitative","scale":{"domain":[1.62841,1.86667],"nice":false,"zero":false}}}},
{"data":{"name":"k"},"mark":{"type":"point","shape":"M-1,-0.5H1V0.5H-1Z","size":49,"filled":true,"color":"#FF0000","strokeWidth":0,"opacity":1},
"encoding":{
"x":{"field":"i","type":"quantitative","scale":{"domain":[-1.33,167.67],"nice":false,"zero":false}},
"y":{"field":"s","type":"quantitative","scale":{"domain":[1.62841,1.86667],"nice":false,"zero":false}}}},
{"data":{"name":"fup"},"mark":{"type":"point","shape":"M0,-1L-0.5,0.1L-0.15,0.1L-0.15,1L0.15,1L0.15,0.1L0.5,0.1Z","size":225,"filled":false,"stroke":"#00E000","strokeWidth":1,"opacity":1,"yOffset":-12},
"encoding":{
"x":{"field":"i","type":"quantitative","scale":{"domain":[-1.33,167.67],"nice":false,"zero":false}},
"y":{"field":"p","type":"quantitative","scale":{"domain":[1.62841,1.86667],"nice":false,"zero":false}}}},
{"data":{"name":"fdn"},"mark":{"type":"point","shape":"M0,1L-0.5,-0.1L-0.15,-0.1L-0.15,-1L0.15,-1L0.15,-0.1L0.5,-0.1Z","size":225,"filled":false,"stroke":"#FF0000","strokeWidth":1,"opacity":1,"yOffset":12},
"encoding":{
"x":{"field":"i","type":"quantitative","scale":{"domain":[-1.33,167.67],"nice":false,"zero":false}},
"y":{"field":"p","type":"quantitative","scale":{"domain":[1.62841,1.86667],"nice":false,"zero":false}}}},
{"data":{"name":"tl"},"mark":{"type":"line","color":"#000000","strokeWidth":3,"clip":true},
"encoding":{
"x":{"field":"i","type":"quantitative","scale":{"domain":[-1.33,167.67],"nice":false,"zero":false}},
"y":{"field":"p","type":"quantitative","scale":{"domain":[1.62841,1.86667],"nice":false,"zero":false}},
"detail":{"field":"g"}}},
{"data":{"name":"arr"},"mark":{"type":"rule","color":"#000000","strokeWidth":3},
"encoding":{
"x":{"field":"i","type":"quantitative","scale":{"domain":[-1.33,167.67],"nice":false,"zero":false}},
"x2":{"field":"i2"},
"y":{"field":"p","type":"quantitative","scale":{"domain":[1.62841,1.86667],"nice":false,"zero":false}},
"y2":{"field":"p2"}}},
{"data":{"name":"arr"},"mark":{"type":"point","shape":"M0,-1L0.9,1L-0.9,1Z","size":289,"filled":true,"color":"#000000","opacity":1},
"encoding":{
"x":{"field":"hi","type":"quantitative","scale":{"domain":[-1.33,167.67],"nice":false,"zero":false}},
"y":{"field":"hp","type":"quantitative","scale":{"domain":[1.62841,1.86667],"nice":false,"zero":false}}}},
{"data":{"name":"ann"},"mark":{"type":"text","font":"Liberation Sans","fontWeight":"bold","fontSize":22,"color":"#000000","align":"left","baseline":"alphabetic"},
"encoding":{
"x":{"field":"i","type":"quantitative","scale":{"domain":[-1.33,167.67],"nice":false,"zero":false}},
"y":{"field":"p","type":"quantitative","scale":{"domain":[1.62841,1.86667],"nice":false,"zero":false}},
"text":{"field":"t"}}},
{"data":{"values":[{"t":"GBPCAD: D1","i":3.27,"p":1.83566}]},"mark":{"type":"text","font":"Liberation Sans","fontWeight":"bold","fontSize":35,"color":"#000000","align":"left","baseline":"alphabetic"},
"encoding":{
"x":{"field":"i","type":"quantitative","scale":{"domain":[-1.33,167.67],"nice":false,"zero":false}},
"y":{"field":"p","type":"quantitative","scale":{"domain":[1.62841,1.86667],"nice":false,"zero":false}},
"text":{"field":"t"}}},
{"data":{"values":[{"t":"GBPCAD, D1","i":-0.7,"p":1.85899}]},"mark":{"type":"text","font":"DejaVu Sans","fontStyle":"italic","fontSize":12,"color":"#FFFFFF","align":"left","baseline":"alphabetic"},
"encoding":{
"x":{"field":"i","type":"quantitative","scale":{"domain":[-1.33,167.67],"nice":false,"zero":false}},
"y":{"field":"p","type":"quantitative","scale":{"domain":[1.62841,1.86667],"nice":false,"zero":false}},
"text":{"field":"t"}}},
{"data":{"values":[{"a":166.57,"b":167.37,"p0":1.86237,"p1":1.86553}]},"mark":{"type":"rect","fill":null,"stroke":"#000000","strokeWidth":1.3},
"encoding":{
"x":{"field":"a","type":"quantitative","scale":{"domain":[-1.33,167.67],"nice":false,"zero":false}},
"x2":{"field":"b"},
"y":{"field":"p0","type":"quantitative","scale":{"domain":[1.62841,1.86667],"nice":false,"zero":false}},
"y2":{"field":"p1"}}},
{"data":{"name":"cp"},"mark":{"type":"rect","color":"#C0C0C0"},
"encoding":{
"x":{"field":"b0","type":"quantitative","scale":{"domain":[-1.33,167.67],"nice":false,"zero":false}},
"x2":{"field":"b1"},
"y":{"field":"p0","type":"quantitative","scale":{"domain":[1.62841,1.86667],"nice":false,"zero":false}},
"y2":{"field":"p1"}}},
{"data":{"name":"cp"},"mark":{"type":"text","font":"DejaVu Sans","fontStyle":"italic","fontSize":13,"color":"#FFFFFF","align":"left","baseline":"middle","dx":2},
"encoding":{
"x":{"field":"b0","type":"quantitative","scale":{"domain":[-1.33,167.67],"nice":false,"zero":false}},
"y":{"field":"p","type":"quantitative","scale":{"domain":[1.62841,1.86667],"nice":false,"zero":false}},
"text":{"field":"t"}}}
]
},
{
"width":1690,"height":130,
"view":{"fill":"#F8F9FD","stroke":"#A8A8A8","strokeWidth":1},
"layer":[
{"data":{"name":"ind"},"mark":{"type":"rule","color":"#0000FF","strokeWidth":1},
"encoding":{
"x":{"field":"i","type":"quantitative","scale":{"domain":[-1.33,167.67],"nice":false,"zero":false},"axis":{"values":[0,14,28,42,56,70,84,98,112,126,140,154],"labels":false,"ticks":false,"domain":false,"grid":true,"gridDash":[4,3],"gridColor":"#BEBEBE","title":null}},
"y":{"field":"m","type":"quantitative","scale":{"domain":[-0.020722,0.023262],"nice":false,"zero":false},"axis":{"orient":"right","values":[-0.020722,0,0.023262],"labelExpr":"replace(format(datum.value,'.6f'),'\u2212','-')","labelFlush":true,"title":null,"grid":true,"gridColor":"#C0C0C0","domain":false,"tickSize":4,"tickColor":"#000000","labelFont":"DejaVu Sans","labelFontSize":13,"labelFontStyle":"italic","labelColor":"#000000","labelPadding":3}},
"y2":{"datum":0}}},
{"data":{"name":"sig"},"mark":{"type":"line","color":"#FF0000","strokeWidth":3,"interpolate":"monotone"},
"encoding":{
"x":{"field":"i","type":"quantitative","scale":{"domain":[-1.33,167.67],"nice":false,"zero":false}},
"y":{"field":"s","type":"quantitative","scale":{"domain":[-0.020722,0.023262],"nice":false,"zero":false}}}},
{"data":{"values":[{"t":"MACD (16, 29, 9)","i":7.53,"m":-0.01448}]},"mark":{"type":"text","font":"Liberation Sans","fontWeight":"bold","fontSize":22,"color":"#000000","align":"left","baseline":"alphabetic"},
"encoding":{
"x":{"field":"i","type":"quantitative","scale":{"domain":[-1.33,167.67],"nice":false,"zero":false}},
"y":{"field":"m","type":"quantitative","scale":{"domain":[-0.020722,0.023262],"nice":false,"zero":false}},
"text":{"field":"t"}}},
{"data":{"values":[{"t":"MACD (12, 26, 9)","i":-0.7,"m":0.01723}]},"mark":{"type":"text","font":"DejaVu Sans","fontStyle":"italic","fontSize":12,"color":"#FFFFFF","align":"left","baseline":"alphabetic"},
"encoding":{
"x":{"field":"i","type":"quantitative","scale":{"domain":[-1.33,167.67],"nice":false,"zero":false}},
"y":{"field":"m","type":"quantitative","scale":{"domain":[-0.020722,0.023262],"nice":false,"zero":false}},
"text":{"field":"t"}}},
{"data":{"values":[{"a":165.47,"b":166.17,"m0":0.01961,"m1":0.02165}]},"mark":{"type":"rect","fill":null,"stroke":"#000000","strokeWidth":1},
"encoding":{
"x":{"field":"a","type":"quantitative","scale":{"domain":[-1.33,167.67],"nice":false,"zero":false}},
"x2":{"field":"b"},
"y":{"field":"m0","type":"quantitative","scale":{"domain":[-0.020722,0.023262],"nice":false,"zero":false}},
"y2":{"field":"m1"}}},
{"data":{"values":[{"t":"\u00d7","i":166.87,"m":0.02063}]},"mark":{"type":"text","font":"DejaVu Sans","fontSize":14,"color":"#000000","align":"center","baseline":"middle"},
"encoding":{
"x":{"field":"i","type":"quantitative","scale":{"domain":[-1.33,167.67],"nice":false,"zero":false}},
"y":{"field":"m","type":"quantitative","scale":{"domain":[-0.020722,0.023262],"nice":false,"zero":false}},
"text":{"field":"t"}}}
]
},
{
"width":1690,"height":140,
"view":{"fill":"#F8F9FD","stroke":"#A8A8A8","strokeWidth":1},
"layer":[
{"data":{"name":"ind"},"mark":{"type":"line","color":"#FF0000","strokeWidth":1},
"encoding":{
"x":{"field":"i","type":"quantitative","scale":{"domain":[-1.33,167.67],"nice":false,"zero":false},"axis":{"values":[0,14,28,42,56,70,84,98,112,126,140,154],"labelExpr":"['10 Jan 2018','30 Jan','19 Feb','09 Mar','29 Mar','18 Apr','08 May','28 May','15 Jun','05 Jul','25 Jul','14 Aug'][round(datum.value/14)]","labelFlush":false,"labelOverlap":false,"labelAlign":"left","labelOffset":2,"labelPadding":2,"ticks":true,"tickSize":5,"tickColor":"#000000","domain":false,"grid":true,"gridDash":[4,3],"gridColor":"#BEBEBE","title":null,"labelFont":"DejaVu Sans","labelFontSize":13,"labelFontStyle":"italic","labelColor":"#000000"}},
"y":{"field":"r","type":"quantitative","scale":{"domain":[6,93],"nice":false,"zero":false},"axis":{"orient":"right","values":[6,30,70,93],"labelFlush":true,"title":null,"grid":true,"gridColor":"#C0C0C0","domain":false,"tickSize":4,"tickColor":"#000000","labelFont":"DejaVu Sans","labelFontSize":13,"labelFontStyle":"italic","labelColor":"#000000","labelPadding":3}}}},
{"data":{"values":[{"i":143.1,"r":13.5},{"i":167.67,"r":19.8}]},"mark":{"type":"line","color":"#000000","strokeWidth":3},
"encoding":{
"x":{"field":"i","type":"quantitative","scale":{"domain":[-1.33,167.67],"nice":false,"zero":false}},
"y":{"field":"r","type":"quantitative","scale":{"domain":[6,93],"nice":false,"zero":false}}}},
{"data":{"values":[{"t":"RSI (10)","i":4.47,"r":16.7}]},"mark":{"type":"text","font":"Liberation Sans","fontWeight":"bold","fontSize":22,"color":"#000000","align":"left","baseline":"alphabetic"},
"encoding":{
"x":{"field":"i","type":"quantitative","scale":{"domain":[-1.33,167.67],"nice":false,"zero":false}},
"y":{"field":"r","type":"quantitative","scale":{"domain":[6,93],"nice":false,"zero":false}},
"text":{"field":"t"}}},
{"data":{"values":[{"t":"RSI (10)","i":-0.7,"r":82.4}]},"mark":{"type":"text","font":"DejaVu Sans","fontStyle":"italic","fontSize":12,"color":"#FFFFFF","align":"left","baseline":"alphabetic"},
"encoding":{
"x":{"field":"i","type":"quantitative","scale":{"domain":[-1.33,167.67],"nice":false,"zero":false}},
"y":{"field":"r","type":"quantitative","scale":{"domain":[6,93],"nice":false,"zero":false}},
"text":{"field":"t"}}},
{"data":{"values":[{"a":165.47,"b":166.17,"r0":86.8,"r1":90.5}]},"mark":{"type":"rect","fill":null,"stroke":"#000000","strokeWidth":1},
"encoding":{
"x":{"field":"a","type":"quantitative","scale":{"domain":[-1.33,167.67],"nice":false,"zero":false}},
"x2":{"field":"b"},
"y":{"field":"r0","type":"quantitative","scale":{"domain":[6,93],"nice":false,"zero":false}},
"y2":{"field":"r1"}}},
{"data":{"values":[{"t":"\u00d7","i":166.87,"r":88.7},{"t":"[ i ]","i":171.5,"r":-2.1}]},"mark":{"type":"text","font":"DejaVu Sans","fontSize":14,"fontStyle":"italic","color":"#000000","align":"center","baseline":"middle"},
"encoding":{
"x":{"field":"i","type":"quantitative","scale":{"domain":[-1.33,167.67],"nice":false,"zero":false}},
"y":{"field":"r","type":"quantitative","scale":{"domain":[6,93],"nice":false,"zero":false}},
"text":{"field":"t"}}}
]
}
]
}
